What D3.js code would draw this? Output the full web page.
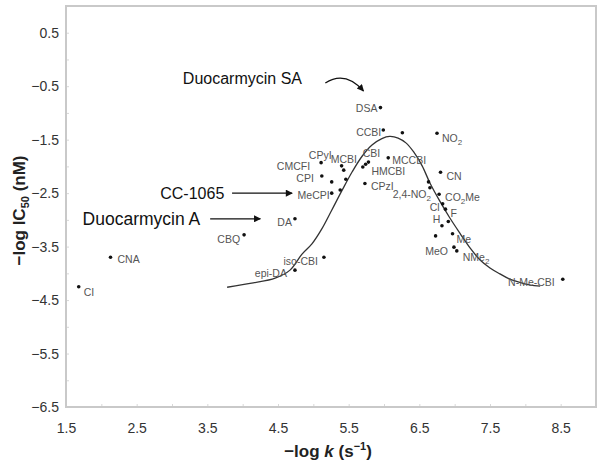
<!DOCTYPE html>
<html><head><meta charset="utf-8">
<script src="https://cdnjs.cloudflare.com/ajax/libs/d3/7.8.5/d3.min.js"></script>
<style>html,body{margin:0;padding:0;background:#fff;}svg{display:block;}</style>
</head><body>
<svg id="chart" width="601" height="467"></svg>
<script>
// ---------- data ----------
const xTicks = [1.5, 2.5, 3.5, 4.5, 5.5, 6.5, 7.5, 8.5];
const yTicks = [0.5, -0.5, -1.5, -2.5, -3.5, -4.5, -5.5, -6.5];

const compoundNames = ["CI","CNA","CBQ","DA","epi-DA","iso-CBI","DSA","CCBI","NO_2","MCCBI","CN",
  "CMCFI","CPI","CPyI","MCBI","CBI","HMCBI","CPzI","2,4-NO_2","MeCPI","CO_2Me","Cl","F","H","Me","MeO","NMe_2","N-Me-CBI"];
const compoundLogK = [1.68,2.13,4.02,4.74,4.74,5.15,5.95,5.99,6.75,6.06,6.80,
  5.11,5.12,5.40,5.43,5.74,5.78,5.73,6.65,5.26,6.78,6.83,6.87,6.82,6.97,6.99,7.03,8.53];
const compoundIC50 = [-4.25,-3.70,-3.28,-2.98,-3.94,-3.70,-0.90,-1.32,-1.38,-1.84,-2.11,
  -1.93,-2.18,-1.99,-2.07,-1.96,-1.92,-2.32,-2.40,-2.50,-2.52,-2.70,-2.80,-3.11,-3.26,-3.51,-3.58,-4.11];

const extraLogK = [5.26,5.70,6.26,6.63,6.91,6.73,5.38,5.46];
const extraIC50 = [-2.29,-2.01,-1.37,-2.29,-3.03,-3.30,-2.44,-2.24];

const fitLogK = [3.78,4.15,4.46,4.67,4.84,4.98,5.12,5.26,5.41,5.55,5.69,5.83,5.97,6.08,6.20,6.31,6.42,6.54,6.65,6.79,6.93,7.08,7.22,7.36,7.50,7.64,7.78,7.92,8.07,8.21];
const fitIC50 = [-4.26,-4.18,-4.09,-3.94,-3.64,-3.45,-3.17,-2.82,-2.44,-2.10,-1.81,-1.60,-1.48,-1.44,-1.47,-1.56,-1.73,-1.99,-2.31,-2.65,-2.96,-3.26,-3.53,-3.75,-3.90,-4.01,-4.11,-4.17,-4.22,-4.24];

// ---------- label layout (style) ----------
const labelLayout = {
  "CI":["start",5,5], "CNA":["start",7,2], "CBQ":["end",-4,4], "DA":["end",-3,3],
  "epi-DA":["end",-8,3], "iso-CBI":["end",-6,4], "DSA":["end",-3,1], "CCBI":["end",-2,2],
  "NO_2":["start",5,5], "MCCBI":["start",4,2], "CN":["start",6,4], "CMCFI":["end",-11,4],
  "CPI":["end",-8,2], "CPyI":["end",-10,-11], "MCBI":["start",-13,-11], "CBI":["start",-3,-11],
  "HMCBI":["start",3,9], "CPzI":["start",6,3], "2,4-NO_2":["end",1,6], "MeCPI":["end",-2,2],
  "CO_2Me":["start",6,3], "Cl":["end",-3,3], "F":["start",5,4], "H":["end",-1.5,-7],
  "Me":["start",4,5], "MeO":["end",-6,4], "NMe_2":["start",6,6], "N-Me-CBI":["end",-8,3]
};

// ---------- chart ----------
const svg = d3.select("#chart");
const x = d3.scaleLinear().domain([1.5, 9.0]).range([66, 596]);
const y = d3.scaleLinear().domain([-6.5, 1.0]).range([407, 6]);

const frameColor = "#c9c9c9";
const tickFont = "'Liberation Sans', Arial, sans-serif";
const fmt = v => (v < 0 ? "\u2212" : "") + Math.abs(v).toFixed(1);

// minor tick marks along frame
const gx = svg.append("g").attr("transform", `translate(0,${y(-6.5)})`)
  .call(d3.axisBottom(x).tickValues(d3.range(1.5, 9.01, 0.5)).tickSize(-3).tickFormat(""));
gx.select(".domain").remove();
gx.selectAll(".tick line").attr("stroke", "#d8d8d8");
const gy = svg.append("g").attr("transform", `translate(${x(1.5)},0)`)
  .call(d3.axisLeft(y).tickValues(d3.range(-6.5, 1.01, 0.5)).tickSize(-3).tickFormat(""));
gy.select(".domain").remove();
gy.selectAll(".tick line").attr("stroke", "#d8d8d8");

// frame
svg.append("rect")
  .attr("x", x(1.5)).attr("y", y(1.0))
  .attr("width", x(9.0) - x(1.5)).attr("height", y(-6.5) - y(1.0))
  .attr("fill", "none").attr("stroke", frameColor).attr("stroke-width", 2);

// tick labels
const xl = svg.append("g").attr("transform", `translate(0,${y(-6.5)})`)
  .call(d3.axisBottom(x).tickValues(xTicks).tickSize(0).tickPadding(16).tickFormat(d => d.toFixed(1)));
xl.select(".domain").remove();
xl.selectAll("text").attr("font-family", tickFont).attr("font-size", 14).attr("fill", "#333");

const yl = svg.append("g").attr("transform", `translate(${x(1.5)},0)`)
  .call(d3.axisLeft(y).tickValues(yTicks).tickSize(0).tickPadding(7).tickFormat(fmt));
yl.select(".domain").remove();
yl.selectAll("text").attr("font-family", tickFont).attr("font-size", 14).attr("fill", "#333");

// axis titles
const xt = svg.append("text").attr("x", (x(1.5)+x(9.0))/2 - 3).attr("y", 457)
  .attr("text-anchor", "middle").attr("font-family", tickFont).attr("font-weight", "bold")
  .attr("font-size", 17).attr("fill", "#222");
xt.append("tspan").text("\u2212log ");
xt.append("tspan").attr("font-style", "italic").text("k");
xt.append("tspan").text(" (s");
xt.append("tspan").attr("font-size", 11).attr("dy", -7).text("\u22121");
xt.append("tspan").attr("dy", 7).text(")");

const yt = svg.append("text")
  .attr("transform", `translate(25,${(y(1.0)+y(-6.5))/2 + 4}) rotate(-90)`)
  .attr("text-anchor", "middle").attr("font-family", tickFont).attr("font-weight", "bold")
  .attr("font-size", 17).attr("fill", "#222");
yt.append("tspan").text("\u2212log IC");
yt.append("tspan").attr("font-size", 11).attr("dy", 4).text("50");
yt.append("tspan").attr("dy", -4).text(" (nM)");

// fitted curve
const line = d3.line().x((d, i) => x(fitLogK[i])).y((d, i) => y(fitIC50[i])).curve(d3.curveCatmullRom.alpha(0.5));
svg.append("path").datum(fitLogK).attr("d", line)
  .attr("fill", "none").attr("stroke", "#333").attr("stroke-width", 1.3);

// points
const pts = compoundNames.map((n, i) => ({name: n, lk: compoundLogK[i], ic: compoundIC50[i]}));
const extra = extraLogK.map((v, i) => ({lk: v, ic: extraIC50[i]}));
svg.append("g").selectAll("circle").data(pts.concat(extra)).join("circle")
  .attr("cx", d => x(d.lk)).attr("cy", d => y(d.ic)).attr("r", 1.8).attr("fill", "#111");

// labels
const lg = svg.append("g").attr("font-family", tickFont).attr("font-size", 10.5).attr("fill", "#555");
pts.forEach(d => {
  const [anchor, dx, dy] = labelLayout[d.name];
  const t = lg.append("text").attr("x", x(d.lk) + dx).attr("y", y(d.ic) + dy + 3.8)
    .attr("text-anchor", anchor);
  const parts = d.name.split("_");
  t.append("tspan").text(parts[0]);
  if (parts.length > 1) {
    t.append("tspan").attr("font-size", 8).attr("dy", 3).text(parts[1][0]);
    if (parts[1].length > 1) t.append("tspan").attr("dy", -3).text(parts[1].slice(1));
  }
});

// annotations
const defs = svg.append("defs");
defs.append("marker").attr("id", "ah").attr("viewBox", "0 0 10 10").attr("refX", 9).attr("refY", 5)
  .attr("markerWidth", 9).attr("markerHeight", 7).attr("markerUnits", "userSpaceOnUse").attr("orient", "auto")
  .append("path").attr("d", "M0,0 L10,5 L0,10 z").attr("fill", "#111");

const ann = svg.append("g").attr("font-family", tickFont).attr("fill", "#111");
ann.append("text").attr("x", x(4.84)).attr("y", y(-0.35) + 6).attr("text-anchor", "end")
  .attr("font-size", 16).text("Duocarmycin SA");
ann.append("text").attr("x", x(3.74)).attr("y", y(-2.50) + 6).attr("text-anchor", "end")
  .attr("font-size", 16).text("CC-1065");
ann.append("text").attr("x", x(3.40)).attr("y", y(-2.98) + 6.5).attr("text-anchor", "end")
  .attr("font-size", 17.5).text("Duocarmycin A");

const arrowStyle = s => s.attr("fill", "none").attr("stroke", "#111").attr("stroke-width", 1.3).attr("marker-end", "url(#ah)");
svg.append("path").attr("d", `M${x(5.17)},${y(-0.44)} Q${x(5.45)},${y(-0.20)} ${x(5.71)},${y(-0.59)}`).call(arrowStyle);
svg.append("path").attr("d", `M${x(3.85)},${y(-2.50)} L${x(4.70)},${y(-2.50)}`).call(arrowStyle);
svg.append("path").attr("d", `M${x(3.54)},${y(-2.98)} L${x(4.25)},${y(-2.98)}`).call(arrowStyle);
</script>
</body></html>
